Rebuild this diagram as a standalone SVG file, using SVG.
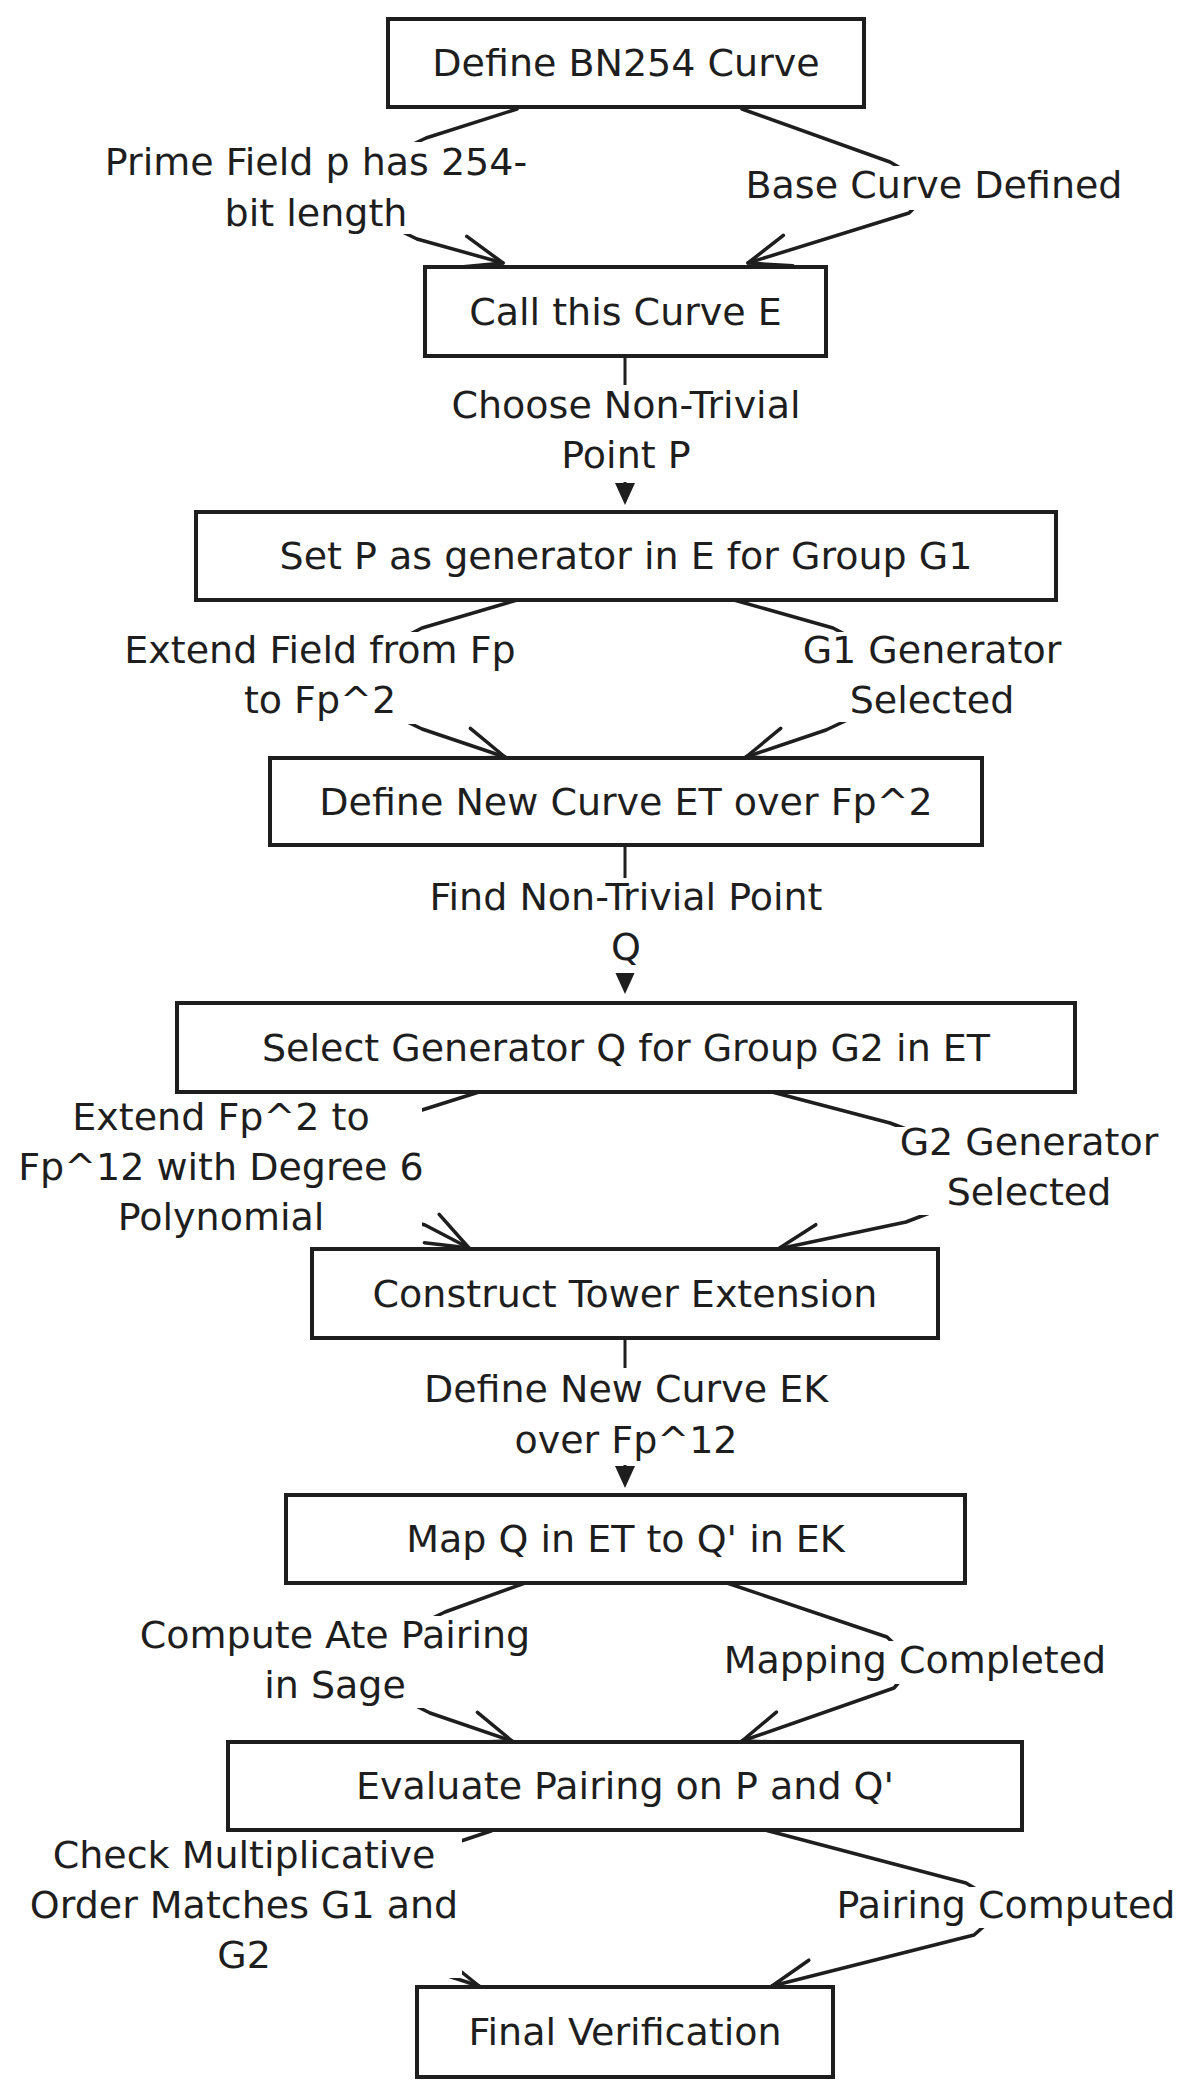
<svg xmlns="http://www.w3.org/2000/svg" width="1187" height="2096" viewBox="0 0 1187 2096">
<style>
.node rect{fill:#ffffff;stroke:#1e1e1e;stroke-width:4}
text{font-family:"DejaVu Sans",sans-serif;font-size:38px;fill:#1e1e1e;text-anchor:middle}
.edge{fill:none;stroke:#1e1e1e;stroke-width:3.5;stroke-linecap:round;stroke-linejoin:round}
.side{marker-end:url(#open)}
.down{marker-end:url(#tri);stroke-width:3}
.lbg{fill:#ffffff;stroke:none}
</style>
<defs>
<marker id="open" markerUnits="userSpaceOnUse" viewBox="-46 -20 50 40" markerWidth="50" markerHeight="40" refX="0" refY="0" orient="auto" overflow="visible">
<path d="M-42,-16 L0,0 L-42,16" fill="none" stroke="#1e1e1e" stroke-width="3.5" stroke-linecap="round" stroke-linejoin="round"/>
</marker>
<marker id="tri" markerUnits="userSpaceOnUse" viewBox="0 -11 22 22" markerWidth="22" markerHeight="22" refX="12" refY="0" orient="auto" overflow="visible">
<path d="M0,-10 L22,0 L0,10 Z" fill="#1e1e1e"/>
</marker>
</defs>
<rect width="1187" height="2096" fill="#ffffff"/>
<g id="connectors">
<path id="e1" class="edge side" d="M517,109 L426,138 L316,190 L417,239 L503,263"/>
<path id="e2" class="edge side" d="M742,109 L890,162 L934,188 L909,213 L748,263"/>
<path id="e3" class="edge down" d="M625,356 L625,495"/>
<path id="e4" class="edge side" d="M517,600 L422,628 L320,680 L422,729 L505,757"/>
<path id="e5" class="edge side" d="M734,600 L833,628 L932,680 L826,730 L746,757"/>
<path id="e6" class="edge down" d="M625,845 L625,984"/>
<path id="e7" class="edge side" d="M479,1092 L422,1110 L221,1170 L425,1225 L469,1248"/>
<path id="e8" class="edge side" d="M772,1092 L890,1123 L1029,1175 L906,1222 L778,1249"/>
<path id="e9" class="edge down" d="M625,1338 L625,1478"/>
<path id="e10" class="edge side" d="M525,1583 L445,1612 L335,1665 L430,1713 L512,1741"/>
<path id="e11" class="edge side" d="M727,1583 L887,1637 L915,1663 L894,1688 L742,1741"/>
<path id="e12" class="edge side" d="M491,1831 L464,1840 L244,1910 L479,1986"/>
<path id="e13" class="edge side" d="M765,1830 L966,1883 L1006,1907 L974,1935 L772,1986"/>
</g>
<g id="edge-labels">
<g id="l1"><rect class="lbg" x="99" y="142" width="436" height="92"/><text x="316" y="175">Prime Field p has 254-</text><text x="316" y="226">bit length</text></g>
<g id="l2"><rect class="lbg" x="740" y="166" width="390" height="44"/><text x="934" y="198">Base Curve Defined</text></g>
<g id="l3"><rect class="lbg" x="440" y="385" width="372" height="97"/><text x="626" y="418">Choose Non-Trivial</text><text x="626" y="468">Point P</text></g>
<g id="l4"><rect class="lbg" x="112" y="632" width="416" height="92"/><text x="320" y="663">Extend Field from Fp</text><text x="320" y="713">to Fp^2</text></g>
<g id="l5"><rect class="lbg" x="800" y="632" width="265" height="90"/><text x="932" y="663">G1 Generator</text><text x="932" y="713">Selected</text></g>
<g id="l6"><rect class="lbg" x="410" y="878" width="432" height="95"/><text x="626" y="910">Find Non-Trivial Point</text><text x="626" y="960">Q</text></g>
<g id="l7"><rect class="lbg" x="18" y="1100" width="404" height="140"/><text x="221" y="1130">Extend Fp^2 to</text><text x="221" y="1180">Fp^12 with Degree 6</text><text x="221" y="1230">Polynomial</text></g>
<g id="l8"><rect class="lbg" x="890" y="1127" width="278" height="88"/><text x="1029" y="1155">G2 Generator</text><text x="1029" y="1205">Selected</text></g>
<g id="l9"><rect class="lbg" x="418" y="1368" width="412" height="97"/><text x="626" y="1402">Define New Curve EK</text><text x="626" y="1453">over Fp^12</text></g>
<g id="l10"><rect class="lbg" x="135" y="1616" width="400" height="92"/><text x="335" y="1648">Compute Ate Pairing</text><text x="335" y="1698">in Sage</text></g>
<g id="l11"><rect class="lbg" x="732" y="1641" width="366" height="43"/><text x="915" y="1673">Mapping Completed</text></g>
<g id="l12"><rect class="lbg" x="25" y="1838" width="437" height="140"/><text x="244" y="1868">Check Multiplicative</text><text x="244" y="1918">Order Matches G1 and</text><text x="244" y="1968">G2</text></g>
<g id="l13"><rect class="lbg" x="836" y="1887" width="342" height="41"/><text x="1006" y="1918">Pairing Computed</text></g>
</g>
<g id="n1" class="node"><rect x="388" y="19" width="476" height="88"/><text x="626" y="76">Define BN254 Curve</text></g>
<g id="n2" class="node"><rect x="425" y="267" width="401" height="89"/><text x="625.5" y="325">Call this Curve E</text></g>
<g id="n3" class="node"><rect x="196" y="512" width="860" height="88"/><text x="626" y="569">Set P as generator in E for Group G1</text></g>
<g id="n4" class="node"><rect x="270" y="758" width="712" height="87"/><text x="626" y="815">Define New Curve ET over Fp^2</text></g>
<g id="n5" class="node"><rect x="177" y="1003" width="898" height="89"/><text x="626" y="1061">Select Generator Q for Group G2 in ET</text></g>
<g id="n6" class="node"><rect x="312" y="1249" width="626" height="89"/><text x="625" y="1307">Construct Tower Extension</text></g>
<g id="n7" class="node"><rect x="286" y="1495" width="679" height="88"/><text x="625.5" y="1552">Map Q in ET to Q' in EK</text></g>
<g id="n8" class="node"><rect x="228" y="1742" width="794" height="88"/><text x="625" y="1799">Evaluate Pairing on P and Q'</text></g>
<g id="n9" class="node"><rect x="417" y="1987" width="416" height="90"/><text x="625" y="2045">Final Verification</text></g>
</svg>
